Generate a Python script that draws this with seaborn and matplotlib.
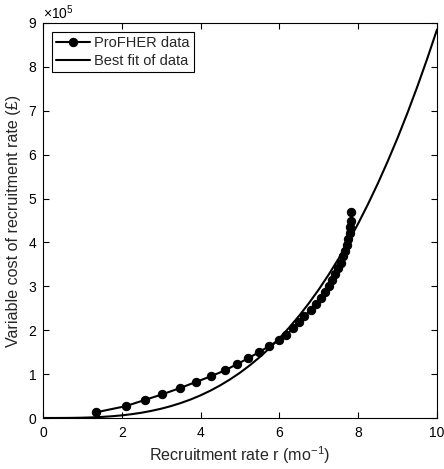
import matplotlib
matplotlib.use("Agg")
import matplotlib.pyplot as plt
import seaborn as sns
import numpy as np
import pandas as pd

# ProFHER data (recruitment rate per month, variable cost in £ x 1e5)
data_rate = [1.35, 2.10, 2.58, 3.03, 3.47, 3.88, 4.26, 4.63, 4.93, 5.21, 5.48, 5.73,
             5.98, 6.18, 6.35, 6.49, 6.63, 6.79, 6.94, 7.06, 7.16, 7.26, 7.34, 7.42,
             7.49, 7.56, 7.62, 7.67, 7.71, 7.75, 7.78, 7.80, 7.81, 7.82, 7.82]
data_cost_e5 = [0.13, 0.27, 0.41, 0.54, 0.68, 0.82, 0.95, 1.09, 1.23, 1.36, 1.50, 1.63,
                1.77, 1.90, 2.04, 2.18, 2.32, 2.45, 2.60, 2.73, 2.87, 3.00, 3.14, 3.27,
                3.41, 3.54, 3.68, 3.81, 3.95, 4.08, 4.22, 4.35, 4.49, 4.62, 4.78]

# Best fit curve
fit_rate = [0.0, 0.25, 0.5, 0.75, 1.0, 1.25, 1.5, 1.75, 2.0, 2.25, 2.5, 2.75, 3.0,
            3.25, 3.5, 3.75, 4.0, 4.25, 4.5, 4.75, 5.0, 5.25, 5.5, 5.75, 6.0, 6.25,
            6.5, 6.75, 7.0, 7.25, 7.5, 7.75, 8.0, 8.25, 8.5, 8.75, 9.0, 9.25, 9.5,
            9.75, 10.0]
fit_cost_e5 = [0.0, 0.0001, 0.001, 0.003, 0.007, 0.014, 0.025, 0.040, 0.060, 0.087,
               0.120, 0.162, 0.212, 0.272, 0.342, 0.423, 0.517, 0.624, 0.745, 0.881,
               1.032, 1.201, 1.387, 1.592, 1.817, 2.062, 2.328, 2.617, 2.929, 3.266,
               3.628, 4.016, 4.432, 4.875, 5.347, 5.851, 6.383, 6.950, 7.549, 8.182,
               8.85]

xticks = [0, 2, 4, 6, 8, 10]
yticks_e5 = [0, 1, 2, 3, 4, 5, 6, 7, 8, 9]

sns.set_style("ticks")
plt.rcParams['font.family'] = ['Liberation Sans', 'DejaVu Sans']
plt.rcParams['mathtext.fontset'] = 'custom'
plt.rcParams['mathtext.rm'] = 'Liberation Sans'
plt.rcParams['mathtext.it'] = 'Liberation Sans:italic'

fig = plt.figure(figsize=(4.44, 4.69), dpi=100)
ax = fig.add_axes([43/444, 1 - 418/469, (437 - 43)/444, (418 - 23)/469])

df_data = pd.DataFrame({"r": data_rate, "c": np.array(data_cost_e5) * 1e5})
df_fit = pd.DataFrame({"r": fit_rate, "c": np.array(fit_cost_e5) * 1e5})

sns.lineplot(data=df_data, x="r", y="c", ax=ax, color="k", marker="o",
             markersize=6, markeredgecolor="k", linewidth=1.5, sort=False,
             label="ProFHER data")
sns.lineplot(data=df_fit, x="r", y="c", ax=ax, color="k", linewidth=1.5,
             sort=False, label="Best fit of data")

ax.set_xlim(0, 10)
ax.set_ylim(0, 9e5)
ax.set_xticks(xticks)
ax.set_yticks([v * 1e5 for v in yticks_e5])
ax.ticklabel_format(axis='y', style='sci', scilimits=(0, 0), useMathText=True)
ax.tick_params(direction='in', length=4, width=0.8, top=True, right=True,
               labelsize=10, colors='k')
ax.tick_params(axis='x', pad=6)
ax.tick_params(axis='y', pad=4)
for s in ax.spines.values():
    s.set_visible(True)
    s.set_linewidth(0.8)
    s.set_color('k')
ax.yaxis.get_offset_text().set_fontsize(10)

ax.set_xlabel("Recruitment rate r (mo$^{-1}$)", fontsize=11.6, labelpad=3)
ax.set_ylabel("Variable cost of recruitment rate (£)", fontsize=11.6, labelpad=5)

leg = ax.legend(loc="upper left", fontsize=10.5, frameon=True, fancybox=False,
                edgecolor='k', framealpha=1, borderpad=0.3, labelspacing=0.25,
                handlelength=2.3, handletextpad=0.3, borderaxespad=0.6)
leg.get_frame().set_linewidth(0.8)

fig.savefig("out.png", dpi=100)
